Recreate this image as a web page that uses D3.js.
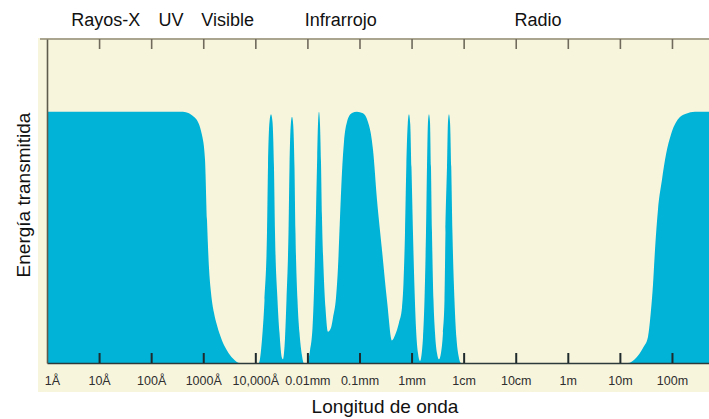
<!DOCTYPE html>
<html>
<head>
<meta charset="utf-8">
<script src="https://cdn.jsdelivr.net/npm/d3@7/dist/d3.min.js"></script>
<style>
  body { margin: 0; background: #fff; }
  text { font-family: "Liberation Sans", Arial, sans-serif; }
</style>
</head>
<body>
<script>
      // wavelength as decades above 1 Angstrom (log10 of lambda in Å)
      var logLambda = [
        0.00, 1.018, 1.978, 2.611, 2.842, 2.976, 3.034, 3.072, 3.110, 3.149, 3.206, 3.264, 3.360, 3.456, 3.571, 3.706,
        4.070, 4.138, 4.176, 4.224, 4.243, 4.272, 4.301, 4.330, 4.358, 4.378, 4.426, 4.464, 4.512,
        4.531, 4.570, 4.598, 4.637, 4.656, 4.681, 4.704, 4.727, 4.752, 4.771, 4.810, 4.848, 4.896, 4.934,
        4.992, 5.050, 5.098, 5.136, 5.165, 5.188, 5.203, 5.222, 5.242, 5.261, 5.280, 5.309, 5.347, 5.395,
        5.453, 5.491, 5.549, 5.587, 5.626, 5.664, 5.702, 5.760, 5.856, 5.952, 6.067, 6.163, 6.221, 6.259, 6.336, 6.432, 6.528, 6.624,
        6.682, 6.758, 6.816, 6.845, 6.874, 6.899, 6.926, 6.950, 6.975, 6.998, 7.027, 7.056, 7.085, 7.123, 7.162,
        7.219, 7.248, 7.277, 7.296, 7.315, 7.334, 7.354, 7.373, 7.392, 7.421, 7.450, 7.488, 7.526,
        7.565, 7.603, 7.632, 7.651, 7.680, 7.699, 7.718, 7.738, 7.762, 7.785, 7.824, 7.862, 7.901, 7.949,
        11.155, 11.309, 11.443, 11.539, 11.597, 11.635, 11.674, 11.731, 11.808, 11.885, 11.981, 12.115, 12.269, 12.442, 12.711
      ];
      // transmitted energy, percent
      var transmission = [
        100, 100, 100, 100, 97.6, 90.8, 80.9, 57, 38, 28, 20, 15, 9, 5, 1.8, 0,
        0, 12, 25, 52, 78, 96, 99, 96, 78, 52, 25, 12, 2,
        1.5, 10, 25, 52, 78, 95, 98, 95, 78, 52, 25, 12, 3, 0,
        0, 5, 14, 35, 60, 82, 95, 100, 95, 80, 58, 38, 22, 12.4,
        14, 18, 26, 38, 58, 76, 88, 96, 99.5, 100, 99.4, 96, 91, 85, 65, 45, 25, 9,
        11, 16, 22, 32, 52, 78, 95, 99, 95, 78, 52, 30, 14, 4, 0.8,
        10, 25, 52, 78, 96, 99, 96, 78, 52, 25, 12, 4, 1.5,
        4, 12, 25, 52, 78, 96, 99, 96, 78, 52, 25, 10, 3, 0,
        0, 2, 6, 10.4, 21, 31, 45, 61, 73, 83, 91, 97, 99.2, 100, 100
      ];

      var tickDecades = [0, 1, 2, 3, 4, 5, 6, 7, 8, 9, 10, 11, 12];
      var tickLabels = ["1Å", "10Å", "100Å", "1000Å", "10,000Å", "0.01mm", "0.1mm",
                        "1mm", "1cm", "10cm", "1m", "10m", "100m"];

      var bandNames = ["Rayos-X", "UV", "Visible", "Infrarrojo", "Radio"];
      var bandCenters = [1.13, 2.38, 3.47, 5.64, 9.43];

      //Width and height
      var w = 709;
      var h = 419;

      var data = logLambda.map(function(d, i) {
        return {lam: d, t: transmission[i]};
      });

      var x = d3.scaleLinear()
            .domain([0, 12.711])
            .range([47, 709]);

      var y = d3.scaleLinear()
            .domain([0, 129])
            .range([363, 39]);

      var svg = d3.select("body")
            .append("svg")
            .attr("width", w)
            .attr("height", h);

      //cream panel
      svg.append("rect")
        .attr("x", 38)
        .attr("y", 38)
        .attr("width", w - 38)
        .attr("height", 354)
        .attr("fill", "#f8f5dd");

      svg.append("line")
        .attr("x1", 40).attr("x2", w)
        .attr("y1", 39).attr("y2", 39)
        .attr("stroke", "#a9a58f")
        .attr("stroke-width", 2);

      //transmission curve
      var area = d3.area()
            .x(function(d) { return x(d.lam); })
            .y0(y(0))
            .y1(function(d) { return y(d.t); })
            .curve(d3.curveMonotoneX);

      svg.append("path")
        .datum(data)
        .attr("d", area)
        .attr("fill", "#00b3d7");

      //bottom axis, ticks pointing up
      var xAxis = d3.axisBottom(x)
            .tickValues(tickDecades)
            .tickSize(-10)
            .tickSizeOuter(0)
            .tickPadding(13)
            .tickFormat(function(d, i) { return tickLabels[i]; });

      var gx = svg.append("g")
        .attr("transform", "translate(0," + y(0) + ")")
        .call(xAxis);
      gx.select(".domain").attr("stroke", "#2c3a3c").attr("stroke-width", 1.6);
      gx.selectAll(".tick line").attr("stroke", "#1e2a2c").attr("stroke-width", 2);
      gx.selectAll(".tick").filter(function(d) { return d === 0; }).select("line").remove();
      gx.selectAll(".tick text")
        .attr("font-size", 12.5)
        .attr("fill", "#2e2e2e")
        .attr("font-family", "'Liberation Sans', Arial, sans-serif")
        .attr("dx", function(d) { return d === 0 ? 5 : 0; });

      //top ticks
      var topAxis = d3.axisTop(x)
            .tickValues(tickDecades.slice(1))
            .tickSize(-10)
            .tickFormat("");
      var gt = svg.append("g")
        .attr("transform", "translate(0,39)")
        .call(topAxis);
      gt.select(".domain").remove();
      gt.selectAll(".tick line").attr("stroke", "#6f6a5c").attr("stroke-width", 1.6);

      //left axis line
      var gy = svg.append("g")
        .attr("transform", "translate(" + x(0) + ",0)")
        .call(d3.axisLeft(y).tickValues([]).tickSizeOuter(0));
      gy.select(".domain").attr("stroke", "#5e5a4c").attr("stroke-width", 1.6);

      //band names
      svg.selectAll("text.band")
        .data(bandNames)
        .enter()
        .append("text")
        .attr("class", "band")
        .attr("x", function(d, i) { return x(bandCenters[i]); })
        .attr("y", 26)
        .attr("text-anchor", "middle")
        .attr("font-size", 18)
        .attr("fill", "#111")
        .text(function(d) { return d; });

      //axis titles
      svg.append("text")
        .attr("x", 385)
        .attr("y", 413)
        .attr("text-anchor", "middle")
        .attr("font-size", 19)
        .attr("fill", "#111")
        .text("Longitud de onda");

      svg.append("text")
        .attr("transform", "translate(30,195) rotate(-90)")
        .attr("text-anchor", "middle")
        .attr("font-size", 19)
        .attr("fill", "#111")
        .text("Energía transmitida");
</script>
</body>
</html>
